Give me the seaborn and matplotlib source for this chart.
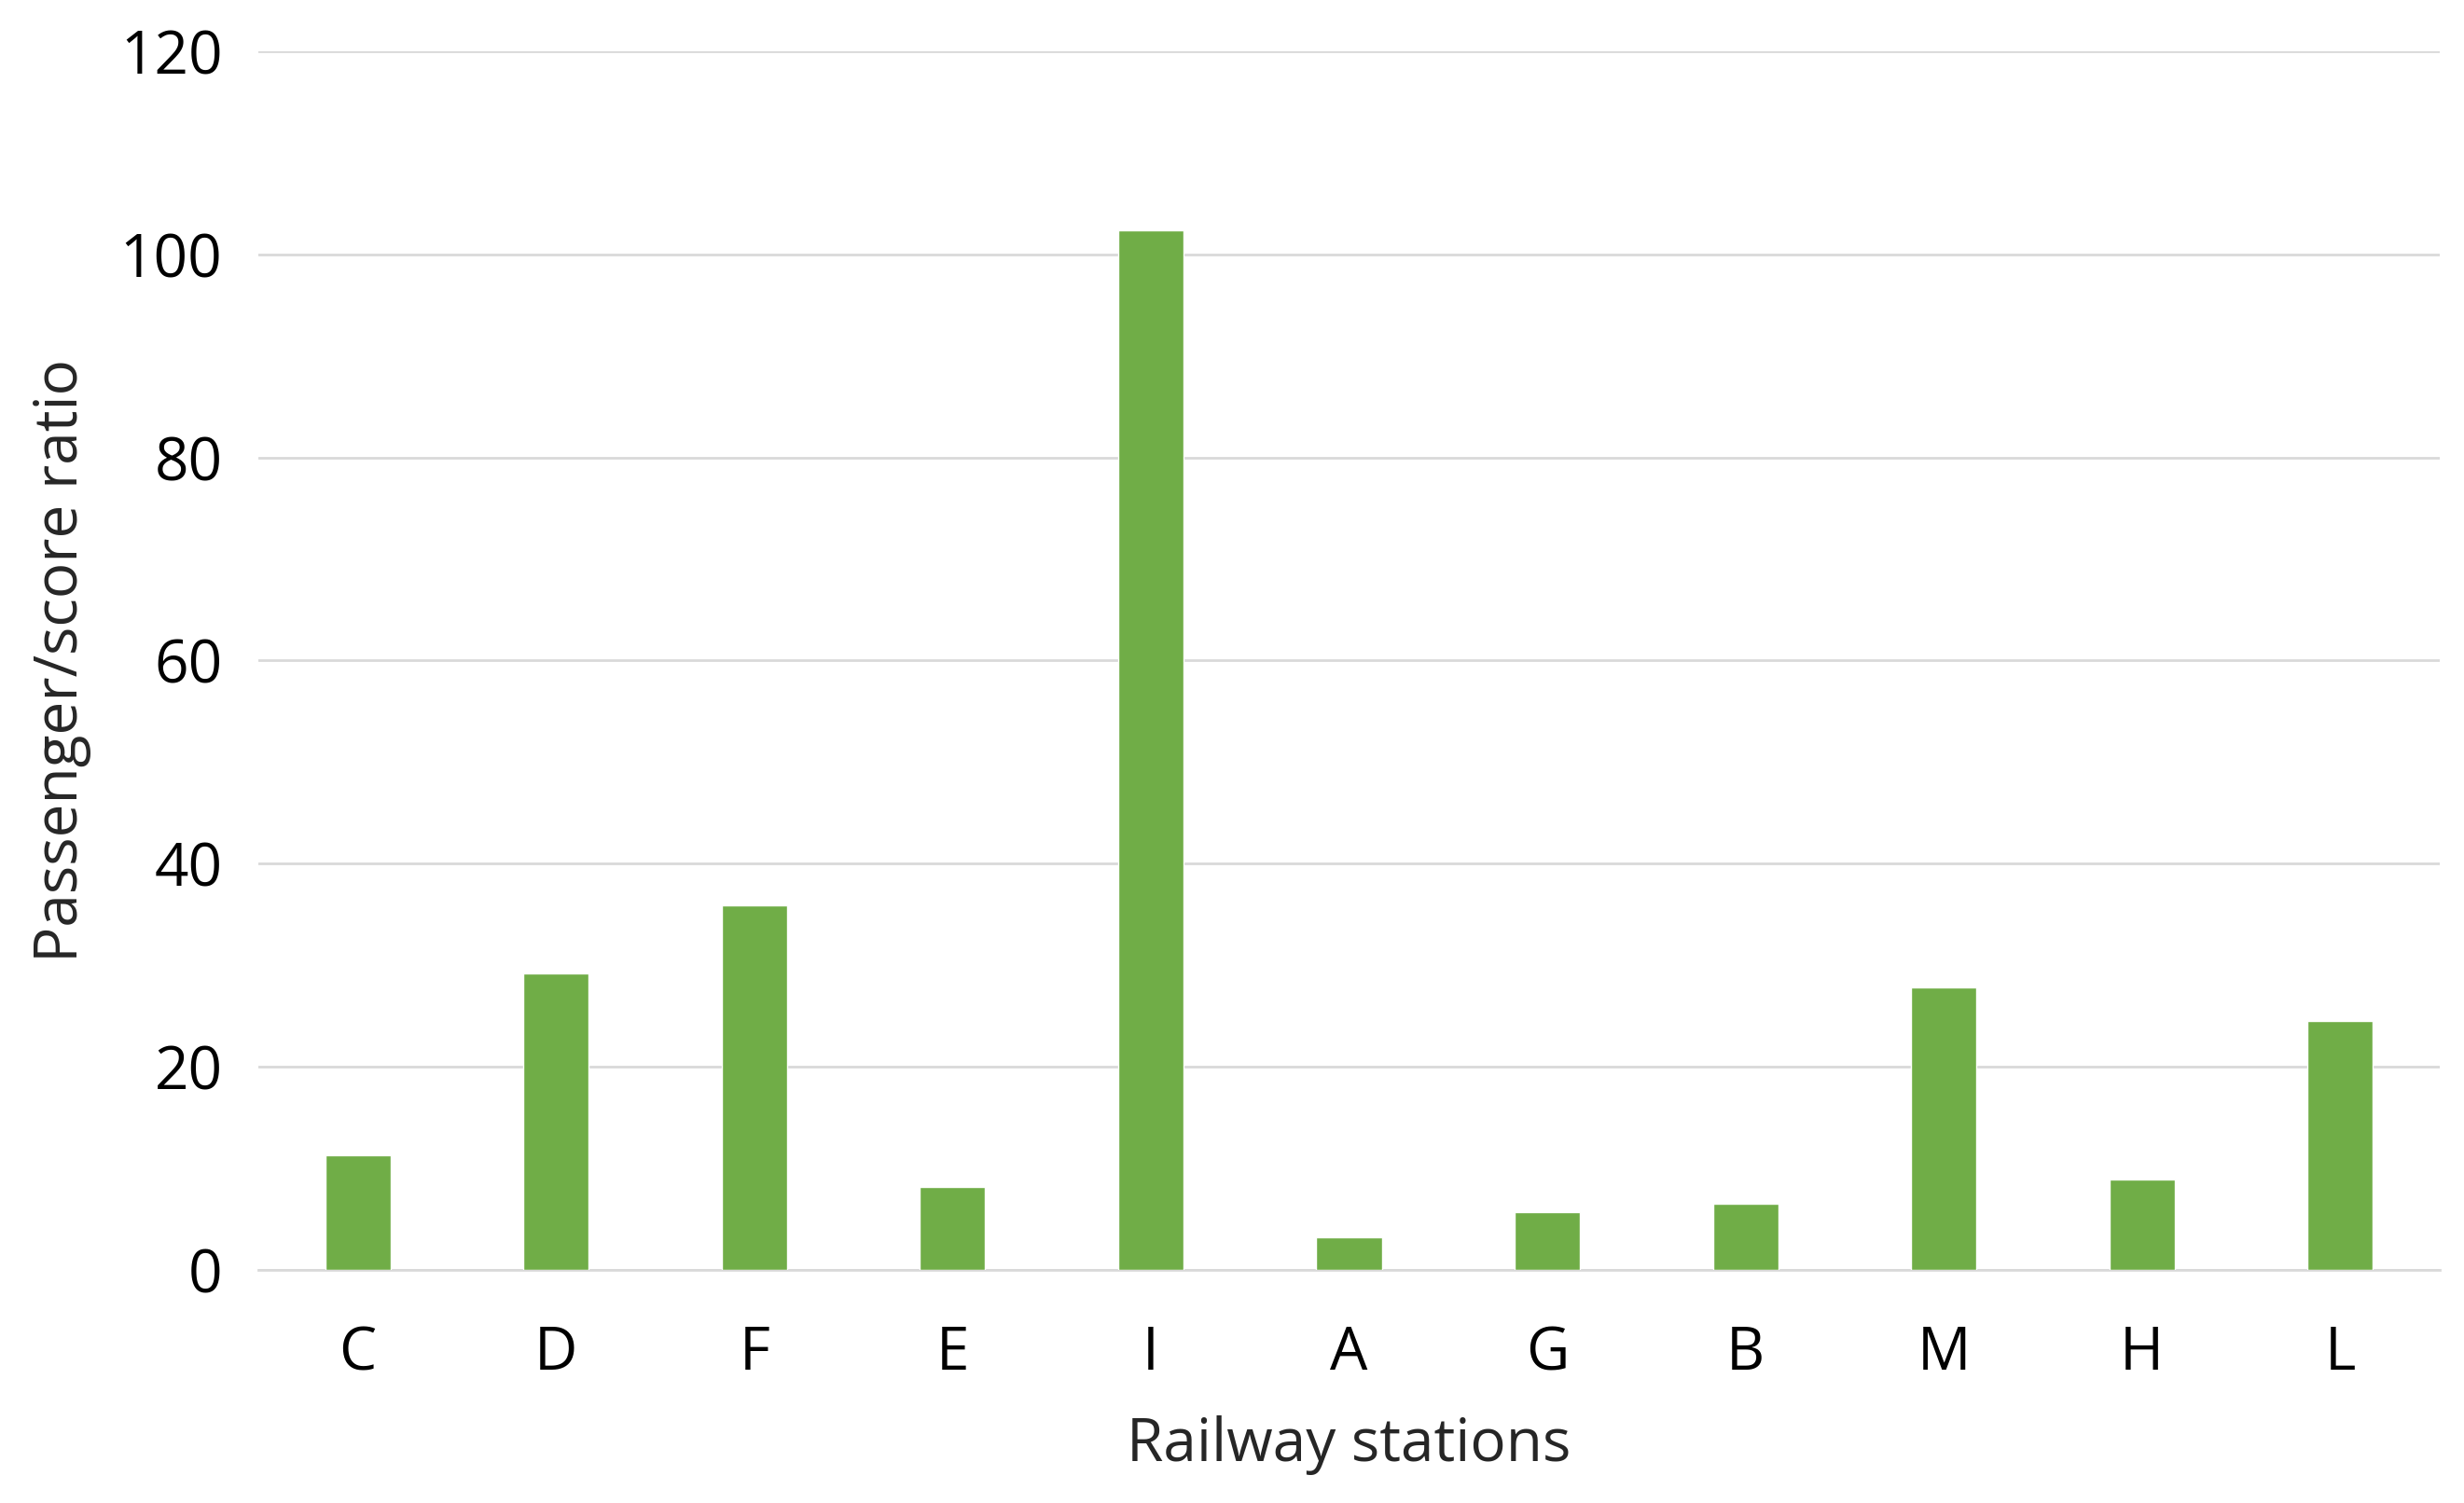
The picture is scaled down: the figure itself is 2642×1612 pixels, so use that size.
import matplotlib
matplotlib.use("Agg")
import matplotlib.pyplot as plt
import seaborn as sns
import pandas as pd

stations = ["C", "D", "F", "E", "I", "A", "G", "B", "M", "H", "L"]
ratios = [11.3, 29.2, 35.9, 8.2, 102.4, 3.2, 5.7, 6.5, 27.8, 8.9, 24.5]

sns.set_theme(style="white")
plt.rcParams['font.family'] = ['Open Sans', 'DejaVu Sans']

df = pd.DataFrame({"station": stations, "ratio": ratios})
fig = plt.figure(figsize=(26.42, 16.12), dpi=100)
ax = fig.add_axes([0.105, 0.155, 0.885, 0.811])
sns.barplot(data=df, x="station", y="ratio", color="#70AD47", width=0.33,
            saturation=1, ax=ax, zorder=3)
ax.set_ylim(0, 120)
ax.set_yticks(range(0, 121, 20))
ax.yaxis.grid(True, color="#D9D9D9", linewidth=2, zorder=0)
for s in ["top", "right", "left"]:
    ax.spines[s].set_visible(False)
ax.spines["bottom"].set_color("#D9D9D9")
ax.spines["bottom"].set_linewidth(2)
ax.tick_params(axis="both", labelsize=46, colors="#000000", length=0, pad=28)
ax.tick_params(axis="x", pad=42)
ax.set_xlabel("Railway stations", fontsize=46, labelpad=24)
ax.set_ylabel("Passenger/score ratio", fontsize=46, labelpad=22)
fig.savefig("out.png", dpi=100)
